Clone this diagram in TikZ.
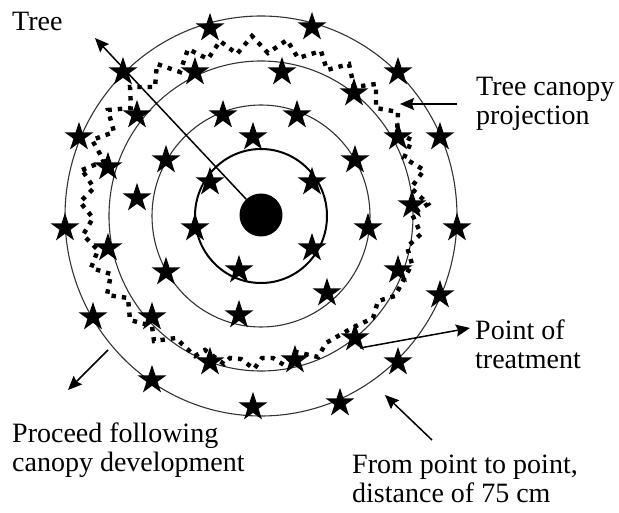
\documentclass[tikz,border=0pt]{standalone}
\usepackage{fontspec}
\setmainfont{Liberation Serif}
\usetikzlibrary{shapes.geometric,arrows.meta}
\begin{document}
\begin{tikzpicture}[x=1pt,y=-1pt,
  pt/.style={star,star points=5,star point ratio=2.618,minimum size=30.5pt,inner sep=0pt,fill=black,draw=none},
  ring/.style={draw=black!80,line width=1.1pt},
  lbl/.style={font=\fontsize{28}{29}\selectfont,inner sep=0pt,align=left,anchor=north west},
  arr/.style={line width=1.5pt,-{Stealth[length=14pt,width=12pt,inset=2pt]}},
  canopy/.style={line width=4.4pt,dash pattern=on 4.4pt off 6pt}
]
\useasboundingbox (0,0) rectangle (619,513);
% rings
\draw[ring] (261,216) ellipse [x radius=196, y radius=200];
\draw[ring] (261,216) ellipse [x radius=152, y radius=155];
\draw[ring] (261,216) ellipse [x radius=109, y radius=111];
\draw[draw=black,line width=2pt] (261,216) ellipse [x radius=66, y radius=67];
% canopy projection
\draw[canopy] (82,170) -- (104,161) -- (92,140) -- (114,132) -- (108,110) -- (131,108) -- (130,87) -- (155,87) -- (157,64) -- (180,72) -- (188,49) -- (208,59) -- (220,41) -- (237,54) -- (252,36) -- (268,53) -- (287,40) -- (298,58) -- (321,51) -- (327,70) -- (349,64) -- (354,87) -- (376,84) -- (376,108) -- (398,112) -- (397,133) -- (412,140) -- (404,158) -- (424,170) -- (411,188) -- (428,204) -- (412,214) -- (421,234) -- (407,247) -- (412,264) -- (395,296) -- (378,301) -- (373,318) -- (352,328) -- (326,343) -- (318,357) -- (296,352) -- (284,365) -- (273,358) -- (262,358) -- (254,369) -- (241,359) -- (230,358) -- (224,364) -- (205,350) -- (195,356) -- (182,344) -- (176,338) -- (154,341) -- (152,326) -- (130,320) -- (128,298) -- (107,295) -- (111,274) -- (91,268) -- (98,250) -- (83,235) -- (93,218) -- (80,202) -- (94,188) -- cycle;
% stars
\foreach \p [count=\i] in {(210,28),(312,27),(123,72),(398,72),(79,137),(440,137),(65,228),(457,228),(93,317),(440,295),(152,380),(398,362),(253,407),(340,403),
  (195,72),(282,72),(354,93),(137,115),(398,137),(108,167),(412,205),(108,248),(398,270),(152,317),(355,338),(210,362),(295,360),
  (223,115),(297,115),(166,160),(355,160),(137,198),(368,228),(166,272),(327,293),(239,315),
  (253,137),(210,182),(312,182),(195,228),(312,248),(239,270)}
  \node[pt] (st\i) at \p {};
% tree
\node[circle,fill=black,minimum size=43pt,inner sep=0pt] (tree) at (261,215) {};
% labels
\node[lbl] (ltree) at (12,12) {Tree};
\node[lbl] (lcan) at (476,77) {Tree canopy\\projection};
\node[lbl] (lpt) at (475,320) {Point of\\treatment};
\node[lbl] (lproc) at (12,423) {Proceed following\\canopy development};
\node[lbl] (lfrom) at (352,455) {From point to point,\\distance of 75 cm};
% arrows
\coordinate (treetip) at (95,38);
\coordinate (cpfrom) at (457,104);
\coordinate (cpto) at (400,104);
\coordinate (ptfrom) at (360,348);
\coordinate (ptto) at (470,328);
\coordinate (prfrom) at (108,350);
\coordinate (prto) at (68,390);
\coordinate (frfrom) at (432,440);
\coordinate (frto) at (385,395);
\draw[arr] (tree) -- (treetip);
\draw[arr] (cpfrom) -- (cpto);
\draw[arr] (ptfrom) -- (ptto);
\draw[arr] (prfrom) -- (prto);
\draw[arr] (frfrom) -- (frto);
\end{tikzpicture}
\end{document}
